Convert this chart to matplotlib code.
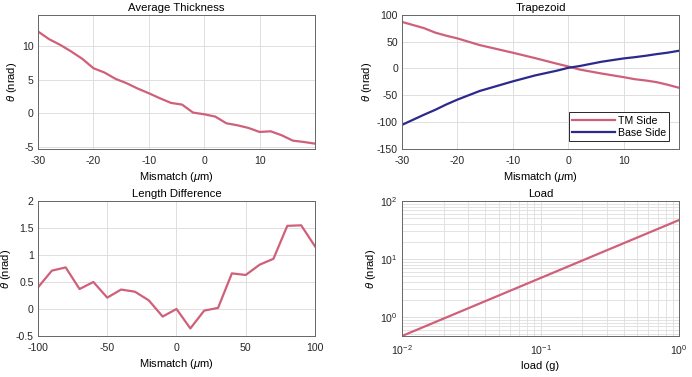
import numpy as np
import matplotlib
matplotlib.use("Agg")
import matplotlib.pyplot as plt

plt.rcParams["font.family"] = ["Liberation Sans", "DejaVu Sans"]
plt.rcParams["mathtext.fontset"] = "custom"
plt.rcParams["mathtext.it"] = "Liberation Sans:italic"
plt.rcParams["mathtext.rm"] = "Liberation Sans"

# --- data ---
thick_x = np.arange(-30, 21, 2)
thick_y = [12.25, 11.1, 10.25, 9.25, 8.15, 6.75, 6.1, 5.15, 4.5, 3.7, 3.0, 2.25, 1.55,
           1.3, 0.1, -0.15, -0.5, -1.5, -1.8, -2.2, -2.8, -2.7, -3.3, -4.1, -4.3, -4.55]

trap_x = [-30, -26, -24, -22, -20, -16, -10, -6, -2, 0, 2, 6, 10, 12, 14, 16, 18, 20]
trap_tm = [86.7, 75, 66.7, 61, 56, 43.6, 29.3, 19.3, 8.7, 3.7, -1.9, -9.4, -16.2, -20,
           -22.4, -25.6, -30.5, -36]
trap_base = [-105, -86, -77, -67, -58, -42, -24, -13, -4, 1.2, 4.4, 12.5, 18.7, 21,
             23.7, 26.8, 29.5, 33]

len_x = np.arange(-100, 101, 10)
len_y = [0.40, 0.71, 0.77, 0.37, 0.50, 0.21, 0.36, 0.32, 0.16, -0.14, 0.0, -0.36,
         -0.03, 0.02, 0.66, 0.63, 0.82, 0.93, 1.54, 1.55, 1.16]

load_x = [0.01, 1.0]
load_y = [0.47, 47.0]

RED = "#d0607a"
BLUE = "#2b2a8c"
GRID = "#dedede"
FS = 7.6

fig = plt.figure(figsize=(6.92, 3.77), dpi=100)
W, H = 0.4003, 0.356
ax1 = fig.add_axes([0.0549, 0.6048, W, H])
ax2 = fig.add_axes([0.581, 0.6048, W, H])
ax3 = fig.add_axes([0.0549, 0.1088, W, 0.358])
ax4 = fig.add_axes([0.581, 0.1088, W, 0.358])


def style(ax, title, xlabel):
    ax.set_title(title, fontsize=FS + 0.6, pad=3)
    ax.set_xlabel(xlabel, fontsize=FS + 0.4, labelpad=3)
    ax.set_ylabel(r"$\theta$ (nrad)", fontsize=FS + 0.4, labelpad=2)
    ax.tick_params(labelsize=FS, length=0, colors="#262626")
    ax.tick_params(axis="x", pad=5)
    ax.tick_params(axis="y", pad=3)
    for s in ax.spines.values():
        s.set_color("#666666")
        s.set_linewidth(0.7)
    ax.grid(True, color=GRID, linewidth=0.7)
    ax.set_axisbelow(True)


ax1.plot(thick_x, thick_y, color=RED, lw=1.6)
ax1.set_xlim(-30, 20)
ax1.set_ylim(-5.35, 14.75)
ax1.set_xticks([-30, -20, -10, 0, 10])
ax1.set_yticks([-5, 0, 5, 10])
style(ax1, "Average Thickness", r"Mismatch ($\mu$m)")

ax2.plot(trap_x, trap_tm, color=RED, lw=1.6, label="TM Side")
ax2.plot(trap_x, trap_base, color=BLUE, lw=1.6, label="Base Side")
ax2.set_xlim(-30, 20)
ax2.set_ylim(-150, 100)
ax2.set_xticks([-30, -20, -10, 0, 10])
ax2.set_yticks([-150, -100, -50, 0, 50, 100])
style(ax2, "Trapezoid", r"Mismatch ($\mu$m)")
leg = ax2.legend(loc="lower right", fontsize=FS, fancybox=False, framealpha=1,
                 edgecolor="#262626", borderpad=0.3, handlelength=4.0,
                 handletextpad=0.3, labelspacing=0.2, borderaxespad=0,
                 bbox_to_anchor=(0.964, 0.06))
leg.get_frame().set_linewidth(0.7)

ax3.plot(len_x, len_y, color=RED, lw=1.6)
ax3.set_xlim(-100, 100)
ax3.set_ylim(-0.5, 2)
ax3.set_xticks([-100, -50, 0, 50, 100])
ax3.set_yticks([-0.5, 0, 0.5, 1, 1.5, 2])
ax3.set_yticklabels(["-0.5", "0", "0.5", "1", "1.5", "2"])
style(ax3, "Length Difference", r"Mismatch ($\mu$m)")

ax4.loglog(load_x, load_y, color=RED, lw=1.6)
ax4.set_xlim(0.01, 1)
ax4.set_ylim(0.47, 100)
style(ax4, "Load", "load (g)")
ax4.grid(True, which="minor", color=GRID, linewidth=0.6)
ax4.tick_params(which="minor", length=0)

for ax in (ax1, ax2, ax3):
    ax.set_xticklabels([str(int(t)) for t in ax.get_xticks()])
for ax in (ax1, ax2):
    ax.set_yticklabels([str(int(t)) for t in ax.get_yticks()])

fig.savefig("out.png", dpi=100)
